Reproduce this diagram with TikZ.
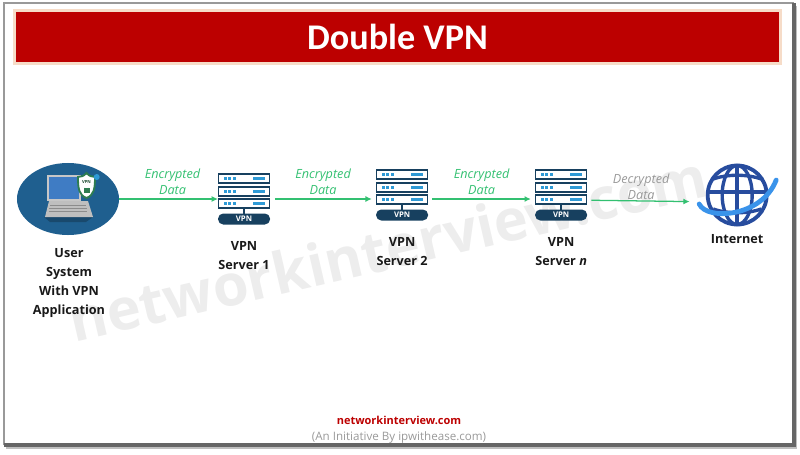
\documentclass[tikz,border=0pt]{standalone}
\usepackage{fontspec}
\setmainfont{Open Sans}
\newfontfamily\titlefont{Carlito}
\usetikzlibrary{positioning, arrows.meta, shapes.geometric}

\definecolor{bannerred}{HTML}{BC0000}
\definecolor{bannerglow}{HTML}{F6DCC8}
\definecolor{framegray}{HTML}{999999}
\definecolor{framedark}{HTML}{666666}
\definecolor{markgray}{HTML}{EDEDED}
\definecolor{flowgreen}{HTML}{33C071}
\definecolor{racknavy}{HTML}{17405F}
\definecolor{rackblue}{HTML}{2E9AD6}
\definecolor{padblue}{HTML}{1F5F8F}
\definecolor{screenblue}{HTML}{3F7CC4}
\definecolor{shieldgreen}{HTML}{2E7D50}
\definecolor{globeblue}{HTML}{274C9E}
\definecolor{orbitblue}{HTML}{3A93EA}

\tikzset{
  vpnrack/.pic={
    % Three rack units
    \foreach \unittop in {-25.5,-12.5,-0.5} {
      \draw[racknavy, line width=1.1pt, fill=white] (-25.5,\unittop+0.5) rectangle (25.5,\unittop+9.5);
      \foreach \dotx in {-19,-14.5,-10}
        \fill[rackblue] (\dotx-1.5,\unittop+3.5) rectangle (\dotx+1.5,\unittop+6.5);
      \fill[rackblue] (9,\unittop+3.5) rectangle (21,\unittop+6.5);
    }
    % Stem and tag
    \fill[racknavy] (-1,9.5) rectangle (1,15);
    \node[racktag] (-tag) at (0,20) {VPN};
  }
}

\begin{document}
\begin{tikzpicture}[
    x=0.025cm, y=-0.025cm,
    banner/.style={rectangle, fill=bannerred, text=white, minimum width=19.075cm, minimum height=1.25cm, font=\titlefont\bfseries\fontsize{25.7}{30}\selectfont},
    device/.style={font=\bfseries\fontsize{9}{13.5}\selectfont, align=center, text=black!90},
    rackbox/.style={rectangle, minimum width=1.3cm, minimum height=1.275cm, inner sep=0pt, outer sep=0pt},
    racktag/.style={rectangle, rounded corners=0.13cm, fill=racknavy, text=white, minimum width=1.3cm, minimum height=0.275cm, inner sep=0pt, font=\bfseries\fontsize{5.5}{6}\selectfont},
    padnode/.style={ellipse, fill=padblue, minimum width=2.55cm, minimum height=1.8cm, inner sep=0pt, outer sep=0pt},
    globenode/.style={circle, minimum size=1.6cm, inner sep=0pt, outer sep=0pt},
    flow/.style={-{Latex[length=1.6mm,width=1.5mm]}, flowgreen, line width=0.9pt},
    flowtext/.style={font=\itshape\fontsize{9}{11.4}\selectfont, align=center, text=flowgreen, inner sep=1pt}
  ]
  \useasboundingbox (0,0) rectangle (800,454);

  % Frame
  \draw[black!25, line width=0.8pt] (796,6) -- (796,448) -- (6,448);
  \draw[framegray, line width=1.6pt] (4,445) -- (4,3) -- (794,3);
  \draw[framedark, line width=2.2pt] (794,3) -- (794,445) -- (4,445);

  % Watermark
  \node[rotate=13, text=markgray, font=\bfseries\fontsize{41}{47}\selectfont] (mark) at (388,248) {networkinterview.com};

  % Banner
  \fill[bannerglow] (13,9) rectangle (782,65);
  \node[banner] (banner) at (397.5,37) {Double VPN};

  % Devices
  \node[padnode] (userpc) at (68,199) {};
  \node[rackbox, right=2.475cm of userpc] (server1) {};
  \node[rackbox, right=2.65cm of server1, yshift=0.1cm] (server2) {};
  \node[rackbox, right=2.675cm of server2] (servern) {};
  \node[globenode, right=2.95cm of servern] (internet) {};

  % Laptop on the pad
  \begin{scope}[shift={(userpc.center)}]
    \fill[racknavy, opacity=0.7] (-24,18) -- (25,18) -- (18,23) -- (-18,23) -- cycle;
    \fill[black!22] (-21,-24) rectangle (13,2);
    \fill[screenblue] (-19,-22) rectangle (11,0);
    \fill[black!25] (-19,2) -- (20,2) -- (25,18) -- (-23,18) -- cycle;
    \foreach \keyrow in {6,9,12}
      \draw[black!45, line width=0.6pt] (-17+\keyrow*-0.2,\keyrow) -- (17+\keyrow*0.2,\keyrow);
    % Shield
    \draw[shieldgreen, fill=white, line width=1.3pt] (18.5,-26) .. controls (21,-23) and (24,-22) .. (27,-22) .. controls (27,-10) and (26,-4) .. (18.5,-1) .. controls (11,-4) and (10,-10) .. (10,-22) .. controls (13,-22) and (16,-23) .. (18.5,-26) -- cycle;
    \node[font=\bfseries\fontsize{3}{4}\selectfont, inner sep=0pt, text=shieldgreen!60!black] (shieldtext) at (18.5,-17) {VPN};
    \fill[shieldgreen] (15.5,-11) rectangle (21.5,-6);
    \draw[shieldgreen, line width=0.6pt] (16.5,-11) arc[start angle=180, end angle=0, radius=2];
    \fill[rackblue] (28.7,-22) circle[radius=3];
  \end{scope}

  % Racks
  \pic (rack1) at (server1) {vpnrack};
  \pic (rack2) at (server2) {vpnrack};
  \pic (rackn) at (servern) {vpnrack};

  % Globe
  \begin{scope}[shift={(internet.center)}]
    \draw[globeblue, line width=2.7pt] (0,0) circle[radius=29.5];
    \draw[globeblue, line width=2.4pt] (0,0) ellipse[x radius=15, y radius=29.5];
    \draw[globeblue, line width=2.4pt] (0,-30) -- (0,30);
    \draw[globeblue, line width=2.4pt] (-30,-3) -- (30,-3);
    \draw[globeblue, line width=2.4pt] (-24,-16) .. controls (-10,-21) and (10,-21) .. (24,-16);
    \draw[globeblue, line width=2.4pt] (-24,14) .. controls (-10,19) and (10,19) .. (24,14);
    \draw[orbitblue, line width=3.4pt, line cap=round] (-38,9) .. controls (-30,26) and (25,22) .. (39,-15);
  \end{scope}

  % Labels
  \node[device] (userlabel) at (69,283) {User\\System\\With VPN\\Application};
  \node[device, below=0.3cm of server1] (label1) {VPN\\Server 1};
  \node[device, below=0.3cm of server2] (label2) {VPN\\Server 2};
  \node[device, below=0.3cm of servern] (labeln) {VPN\\Server \textit{n}};
  \node[device, below=0.05cm of internet] (netlabel) {Internet};

  % Connectors
  \draw[flow] (userpc) -- node[flowtext, above=0.05cm, xshift=0.1cm] (flow1) {Encrypted\\Data} (server1);
  \draw[flow, shorten <=3.5pt, shorten >=3pt] (server1) -- node[flowtext, above=0.05cm] (flow2) {Encrypted\\Data} ([yshift=-0.1cm]server2.west);
  \draw[flow, shorten <=3pt, shorten >=3pt] ([yshift=-0.1cm]server2.east) -- node[flowtext, above=0.05cm] (flow3) {Encrypted\\Data} ([yshift=-0.1cm]servern.west);
  \draw[flow, shorten <=3pt, shorten >=11pt] ([yshift=-0.13cm]servern.east) -- node[flowtext, above=-0.01cm, xshift=-0.125cm, text=black!40] (flow4) {Decrypted\\Data} ([yshift=-0.17cm]internet.west);

  % Footer
  \node[text=bannerred, font=\bfseries\fontsize{7.8}{9}\selectfont] (site) at (399,420) {networkinterview.com};
  \node[text=black!40, font=\fontsize{8.25}{9}\selectfont, below=-0.05cm of site] (initiative) {(An Initiative By ipwithease.com)};
\end{tikzpicture}
\end{document}
